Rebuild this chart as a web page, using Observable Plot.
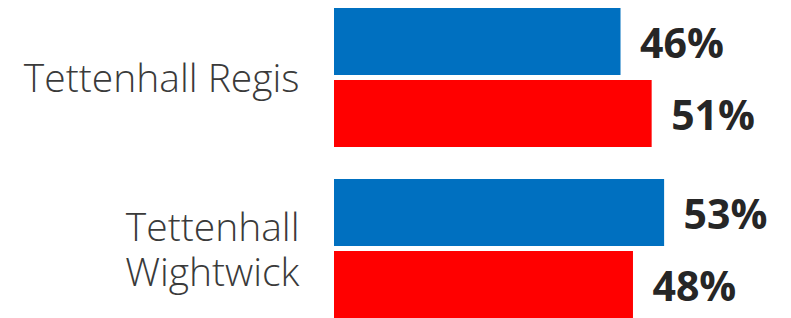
<!DOCTYPE html>
<html>
<head>
<meta charset="utf-8">
<script src="https://cdn.jsdelivr.net/npm/d3@7"></script>
<script src="https://cdn.jsdelivr.net/npm/@observablehq/plot@0.6"></script>
<style>
  html, body { margin: 0; padding: 0; background: #fff; }
</style>
</head>
<body>
<div id="chart"></div>
<script>
const areas = ["Tettenhall Regis", "Tettenhall\nWightwick"];
const series = ["Series 1", "Series 2"];
const series1Values = [46, 53];
const series2Values = [51, 48];
const colors = ["#0070C0", "#FF0000"];

const data = [];
areas.forEach((a, i) => {
  data.push({area: a, series: series[0], value: series1Values[i]});
  data.push({area: a, series: series[1], value: series2Values[i]});
});

const chart = Plot.plot({
  width: 791,
  height: 318,
  marginLeft: 334,
  marginRight: 21,
  marginTop: 8,
  marginBottom: 0,
  style: {background: "#fff"},
  x: {domain: [0, 70], axis: null},
  y: {domain: series, axis: null, paddingInner: 0.0696, paddingOuter: 0},
  fy: {domain: areas, axis: null, paddingInner: 0.19, paddingOuter: 0},
  color: {type: "ordinal", domain: series, range: colors},
  marks: [
    Plot.barX(data, {x: "value", y: "series", fy: "area", fill: {value: "series", scale: "color"}}),
    Plot.text(data, {
      x: "value", y: "series", fy: "area",
      text: d => d.value + "%",
      textAnchor: "start", dx: 19, dy: 3,
      fontSize: 41, fontWeight: "bold",
      fontFamily: "'Open Sans', sans-serif",
      fill: "#262626"
    }),
    Plot.text(areas, {
      fy: d => d,
      text: d => d,
      frameAnchor: "left",
      textAnchor: "end",
      dx: -35,
      lineHeight: 1.16,
      fontSize: 39,
      fontWeight: 300,
      fontFamily: "'Open Sans', sans-serif",
      fill: "#3a3a3a"
    })
  ]
});
document.getElementById("chart").appendChild(chart);
</script>
</body>
</html>
